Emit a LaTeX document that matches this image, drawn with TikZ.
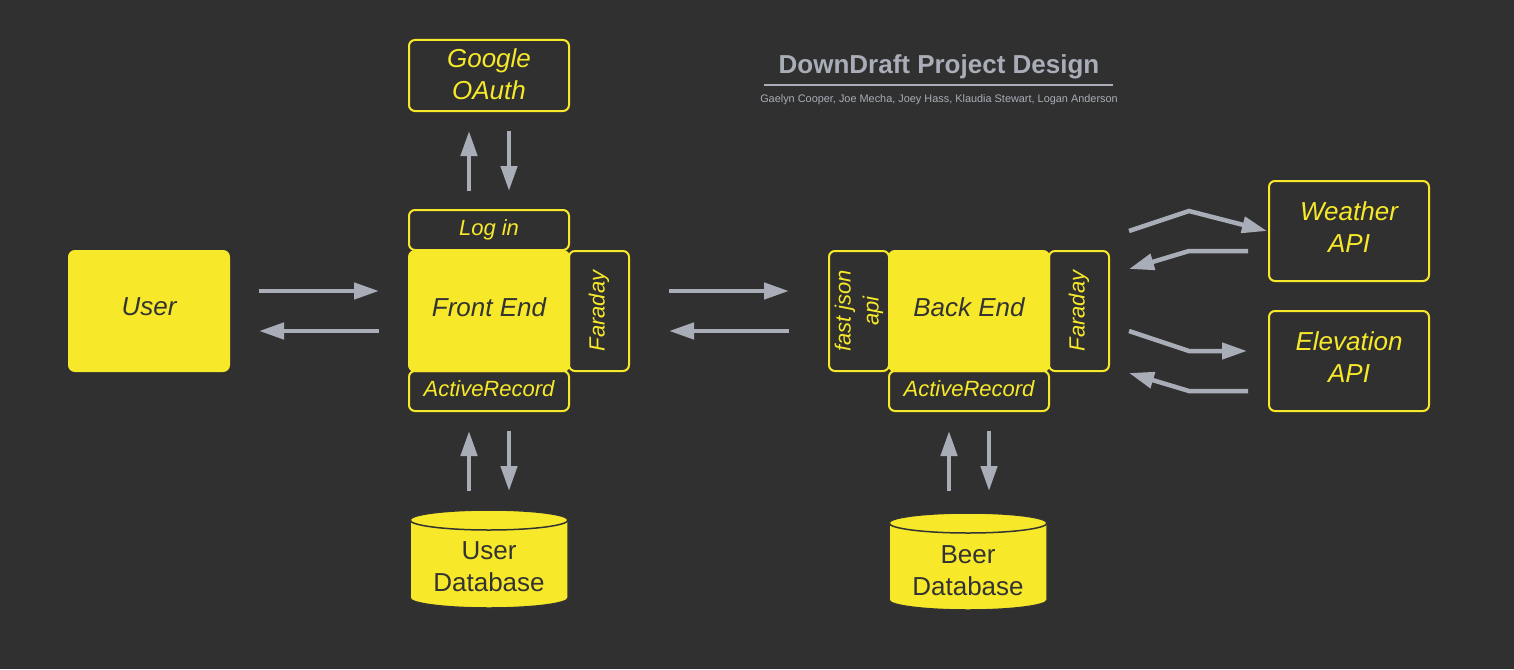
\documentclass[tikz,border=0pt]{standalone}
\usepackage{fontspec}
\setmainfont{Liberation Sans}
\usetikzlibrary{arrows.meta,calc}
\definecolor{bg}{HTML}{303030}
\definecolor{yel}{HTML}{F7E92A}
\definecolor{gry}{HTML}{A9ADB7}
\definecolor{dk}{HTML}{333333}
\newcommand{\rup}[2]{\raisebox{#1}[\height][\depth]{#2}}
\newcommand{\twol}[3]{\raisebox{#1}[\height][\depth]{\begin{tabular}{@{}c@{}}#2\\#3\end{tabular}}}
\begin{document}
\begin{tikzpicture}[x=1pt,y=-1pt,
  fbox/.style={draw=yel,fill=yel,line width=2pt,rounded corners=6pt,text=dk,
    font=\fontsize{26}{32}\selectfont\itshape,inner sep=0pt,align=center},
  obox/.style={draw=yel,line width=2pt,rounded corners=6pt,text=yel,
    font=\fontsize{26}{32}\selectfont\itshape,inner sep=0pt,align=center},
  sm/.style={font=\fontsize{22}{28}\selectfont\itshape},
  arr/.style={draw=gry,line width=4.5pt,-{Triangle[length=25pt,width=16pt]}},
  dbtext/.style={text=dk,font=\fontsize{26}{32}\selectfont,align=center,inner sep=0pt},
  cyl/.style={draw=dk,line width=1.5pt},
]
\fill[bg] (0,0) rectangle (1514,669);

% title
\node[text=gry,font=\fontsize{26}{30}\selectfont\bfseries] (title) at (939,67) {DownDraft Project Design};
\draw[gry,line width=2pt] (764,85) -- (1113,85);
\node[text=gry,font=\fontsize{10.9}{12}\selectfont] (authors) at (939,99.5) {Gaelyn Cooper, Joe Mecha, Joey Hass, Klaudia Stewart, Logan Anderson};

% user
\node[fbox,minimum width=160pt,minimum height=120pt] (user) at (149,311) {\rup{4pt}{User}};

% front end group
\node[fbox,minimum width=160pt,minimum height=120pt] (front) at (489,311) {\rup{4pt}{Front End}};
\node[obox,sm,minimum width=160pt,minimum height=40pt] (login) at (489,230) {Log in};
\node[obox,sm,minimum width=160pt,minimum height=40pt] (ar1) at (489,391) {\rup{2pt}{ActiveRecord}};
\node[obox,sm,minimum width=60pt,minimum height=120pt] (far1) at (599,311) {\rotatebox{90}{Faraday}};
\node[obox,minimum width=160pt,minimum height=71pt] (google) at (489,75.5) {\twol{-2pt}{Google}{OAuth}};

% back end group
\node[fbox,minimum width=160pt,minimum height=120pt] (back) at (969,311) {\rup{4pt}{Back End}};
\node[obox,sm,minimum width=60pt,minimum height=120pt] (fja) at (859,311) {\rotatebox{90}{\begin{tabular}{@{}c@{}}fast json\\api\end{tabular}}};
\node[obox,sm,minimum width=60pt,minimum height=120pt] (far2) at (1079,311) {\rotatebox{90}{Faraday}};
\node[obox,sm,minimum width=160pt,minimum height=40pt] (ar2) at (969,391) {\rup{2pt}{ActiveRecord}};

% APIs
\node[obox,minimum width=160pt,minimum height=100pt] (weather) at (1349,231) {\twol{1pt}{Weather}{API}};
\node[obox,minimum width=160pt,minimum height=100pt] (elev) at (1349,361) {\twol{1pt}{Elevation}{API}};

% user database cylinder
\fill[yel] (410,520) rectangle (568,598);
\fill[yel] (489,598) ellipse [x radius=79pt, y radius=10pt];
\fill[yel] (489,520) ellipse [x radius=79pt, y radius=10pt];
\draw[cyl] (410,520) -- (410,598) arc[start angle=180,end angle=360,x radius=79pt,y radius=10pt] -- (568,520);
\draw[cyl] (489,520) ellipse [x radius=79pt, y radius=10pt];
\node[dbtext] (udb) at (489,567) {User\\Database};

% beer database cylinder
\fill[yel] (889,523) rectangle (1047,600);
\fill[yel] (968,600) ellipse [x radius=79pt, y radius=10pt];
\fill[yel] (968,523) ellipse [x radius=79pt, y radius=10pt];
\draw[cyl] (889,523) -- (889,600) arc[start angle=180,end angle=360,x radius=79pt,y radius=10pt] -- (1047,523);
\draw[cyl] (968,523) ellipse [x radius=79pt, y radius=10pt];
\node[dbtext] (bdb) at (968,571) {Beer\\Database};

% arrow end points
\coordinate (g1a) at (469,191); \coordinate (g1b) at (469,131);
\coordinate (g2a) at (509,131); \coordinate (g2b) at (509,191);
\coordinate (u1a) at (469,491); \coordinate (u1b) at (469,431);
\coordinate (u2a) at (509,431); \coordinate (u2b) at (509,491);
\coordinate (b1a) at (949,491); \coordinate (b1b) at (949,431);
\coordinate (b2a) at (989,431); \coordinate (b2b) at (989,491);
\coordinate (uf1a) at (259,291); \coordinate (uf1b) at (379,291);
\coordinate (uf2a) at (379,331); \coordinate (uf2b) at (259,331);
\coordinate (fb1a) at (669,291); \coordinate (fb1b) at (789,291);
\coordinate (fb2a) at (789,331); \coordinate (fb2b) at (669,331);
\coordinate (w1a) at (1129,231); \coordinate (w1m) at (1189,211); \coordinate (w1b) at (1267,231);
\coordinate (w2a) at (1248,251); \coordinate (w2m) at (1189,251); \coordinate (w2b) at (1129,269);
\coordinate (e1a) at (1129,331); \coordinate (e1m) at (1189,351); \coordinate (e1b) at (1247,351);
\coordinate (e2a) at (1248,391); \coordinate (e2m) at (1189,391); \coordinate (e2b) at (1129,373);

\draw[arr] (g1a) -- (g1b);
\draw[arr] (g2a) -- (g2b);
\draw[arr] (u1a) -- (u1b);
\draw[arr] (u2a) -- (u2b);
\draw[arr] (b1a) -- (b1b);
\draw[arr] (b2a) -- (b2b);
\draw[arr] (uf1a) -- (uf1b);
\draw[arr] (uf2a) -- (uf2b);
\draw[arr] (fb1a) -- (fb1b);
\draw[arr] (fb2a) -- (fb2b);
\draw[arr] (w1a) -- (w1m) -- (w1b);
\draw[arr] (w2a) -- (w2m) -- (w2b);
\draw[arr] (e1a) -- (e1m) -- (e1b);
\draw[arr] (e2a) -- (e2m) -- (e2b);
\end{tikzpicture}
\end{document}
